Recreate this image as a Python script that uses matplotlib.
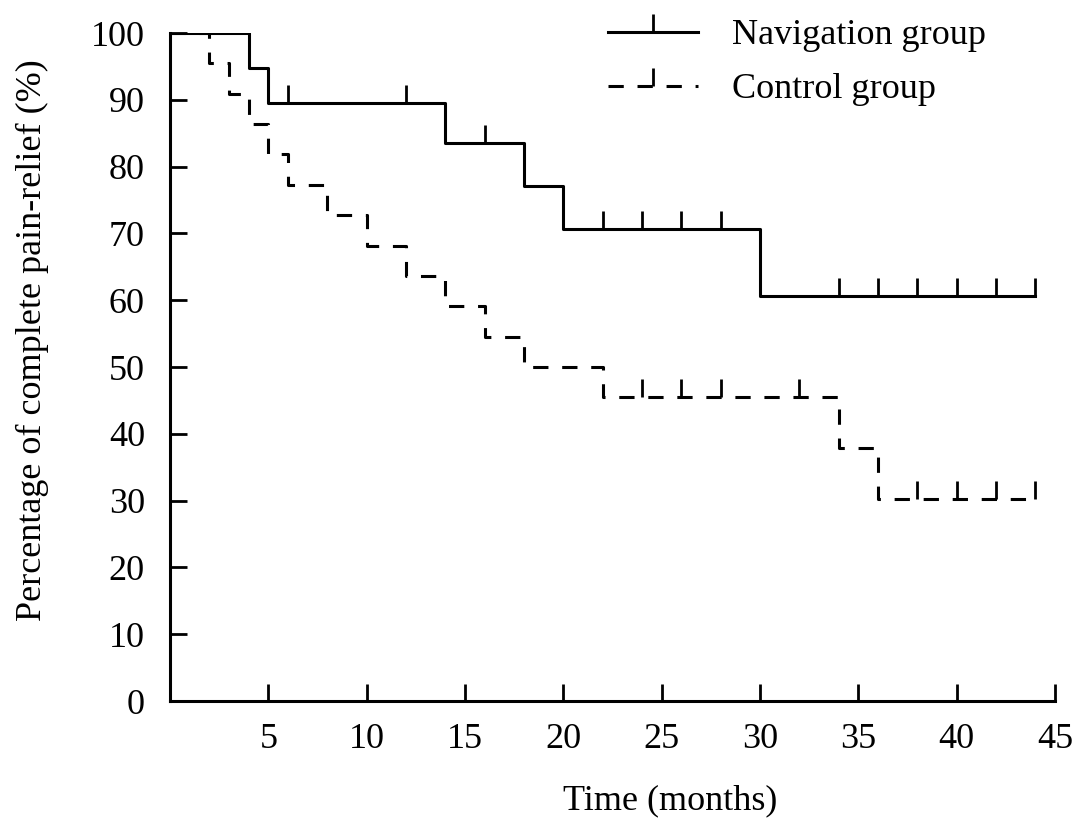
import numpy as np
import matplotlib
matplotlib.use("Agg")
import matplotlib.pyplot as plt
from matplotlib.path import Path
from matplotlib.lines import Line2D

plt.rcParams['font.family'] = ['Liberation Serif', 'DejaVu Serif']

# Navigation group (Kaplan-Meier steps)
nav_t = [0, 4, 5, 14, 18, 20, 30, 44]
nav_s = [100, 94.74, 89.47, 83.51, 77.09, 70.66, 60.57, 60.57]
nav_cens = [1, 2, 6, 12, 16, 22, 24, 26, 28, 34, 36, 38, 40, 42, 44]

# Control group
ctrl_t = [0, 2, 3, 4, 5, 6, 8, 10, 12, 14, 16, 18, 22, 34, 36, 44]
ctrl_s = [100, 95.45, 90.91, 86.36, 81.82, 77.27, 72.73, 68.18, 63.64,
          59.09, 54.55, 50.0, 45.45, 37.88, 30.30, 30.30]
ctrl_cens = [24, 26, 28, 32, 38, 40, 42, 44]

x_ticks = [5, 10, 15, 20, 25, 30, 35, 40, 45]
y_ticks = list(range(0, 101, 10))


def step_value(t, times, surv):
    idx = np.searchsorted(times, t, side='right') - 1
    return np.array(surv)[idx]


tick_up = Path([[0, 0], [0, 1]], [Path.MOVETO, Path.LINETO])
dash = (0, (5, 4.5))
lw = 2.2
fs = 26

fig = plt.figure(figsize=(10.75, 8.19), dpi=100)
ax = fig.add_axes([170 / 1075, 1 - 701 / 819, 885 / 1075, 668 / 819])

ax.step(nav_t, nav_s, where='post', color='black', lw=lw)
ax.step(ctrl_t, ctrl_s, where='post', color='black', lw=lw, linestyle=dash)

ax.plot(nav_cens, step_value(nav_cens, nav_t, nav_s), linestyle='none',
        marker=tick_up, ms=26, mew=2, color='black', mfc='none')
ax.plot(ctrl_cens, step_value(ctrl_cens, ctrl_t, ctrl_s), linestyle='none',
        marker=tick_up, ms=26, mew=2, color='black', mfc='none')

ax.set_xlim(0, 45)
ax.set_ylim(0, 100)
ax.set_xticks(x_ticks)
ax.set_yticks(y_ticks)
ax.spines['top'].set_visible(False)
ax.spines['right'].set_visible(False)
for s in ['left', 'bottom']:
    ax.spines[s].set_linewidth(lw)
ax.tick_params(axis='both', direction='in', length=12, width=2, labelsize=fs)
ax.tick_params(axis='x', pad=16)
ax.tick_params(axis='y', pad=18)

ax.set_xlabel('Time (months)', fontsize=fs)
ax.xaxis.set_label_coords(0.565, -0.125)
ax.set_ylabel('Percentage of complete pain-relief (%)', fontsize=fs)
ax.yaxis.set_label_coords(-0.137, 0.54)

handles = [
    Line2D([], [], color='black', lw=lw, marker=tick_up, ms=26, mew=2, mfc='none'),
    Line2D([], [], color='black', lw=lw, linestyle=dash, marker=tick_up, ms=26,
           mew=2, mfc='none'),
]
ax.legend(handles, ['Navigation group', 'Control group'], loc='upper left',
          bbox_to_anchor=(608 / 1075, 1 - 19 / 819), bbox_transform=fig.transFigure,
          frameon=False, fontsize=fs, handlelength=2.5, handletextpad=0.92,
          borderpad=0, borderaxespad=0, labelspacing=0.58, numpoints=1)

fig.savefig('out.png', dpi=100)
